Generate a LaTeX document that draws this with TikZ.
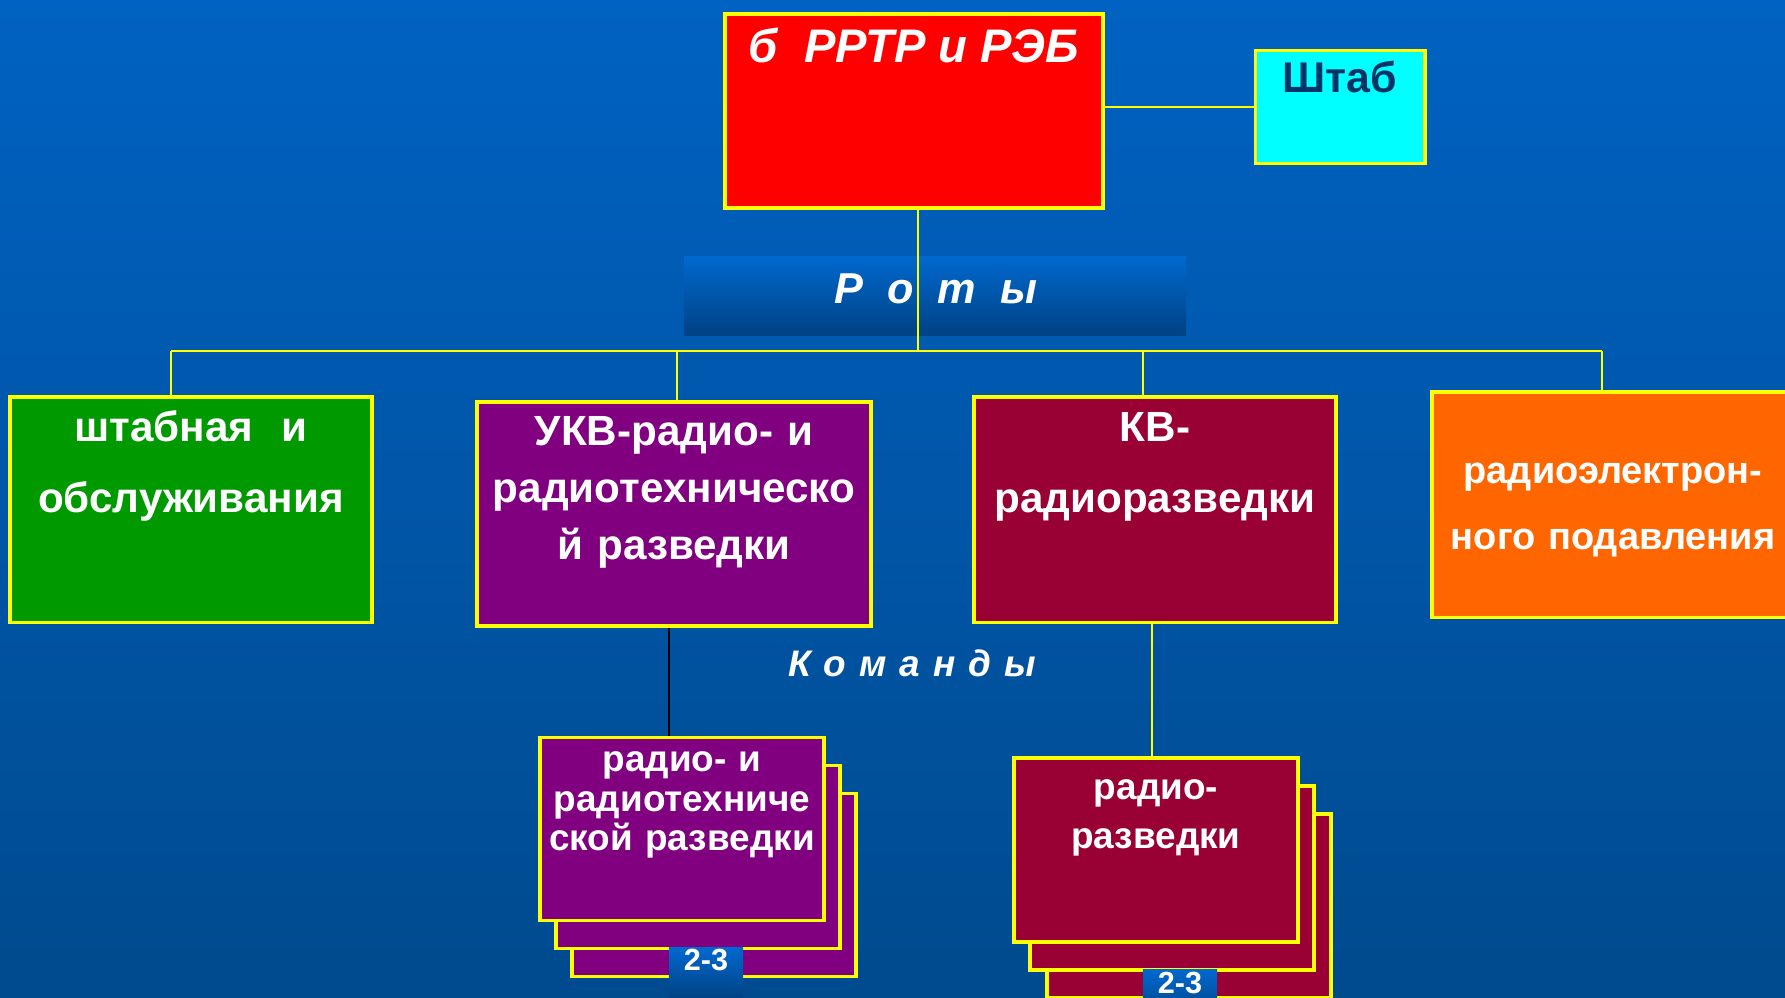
\documentclass[tikz,border=0pt]{standalone}
\usepackage{fontspec}
\setmainfont{Liberation Sans}
\definecolor{bgtop}{RGB}{0,98,194}
\definecolor{bgbottom}{RGB}{0,74,142}
\definecolor{linkyellow}{RGB}{255,255,0}
\definecolor{unitred}{RGB}{255,0,0}
\definecolor{staffcyan}{RGB}{0,255,255}
\definecolor{staffnavy}{RGB}{0,51,102}
\definecolor{unitgreen}{RGB}{0,153,0}
\definecolor{unitpurple}{RGB}{128,0,128}
\definecolor{unitwine}{RGB}{153,0,51}
\definecolor{unitorange}{RGB}{255,102,0}
\definecolor{bandtop}{RGB}{0,104,206}
\definecolor{bandbottom}{RGB}{0,66,132}
\begin{document}
\begin{tikzpicture}[x=0.01cm, y=-0.01cm,
  unitbox/.style={rectangle, draw=linkyellow, line width=1.1pt, inner sep=0pt},
  unittext/.style={text=white, align=center, inner sep=0pt, anchor=base},
  link/.style={draw=linkyellow, line width=0.6pt},
  countbox/.style={rectangle, inner sep=0pt, top color=bandtop,
    bottom color=bandbottom, minimum width=0.74cm, minimum height=0.5cm},
]
\useasboundingbox (0,0) rectangle (1785,998);
\clip (0,0) rectangle (1785,998);

% Background
\shade[top color=bgtop, bottom color=bgbottom] (0,0) rectangle (1785,998);

% Companies band
\node[rectangle, inner sep=0pt, top color=bandtop, bottom color=bandbottom,
  minimum width=5.02cm, minimum height=0.78cm] (band) at (935,296) {};

% Junctions on the bus
\coordinate (jhq) at (918,351);
\coordinate (jsvc) at (171,351);
\coordinate (jukv) at (677,351);
\coordinate (jkv) at (1143,351);
\coordinate (jew) at (1602,351);
\coordinate (jcmd) at (669,626);
\coordinate (jkvcmd) at (1152,622);

% Battalion and staff
\node[unitbox, fill=unitred, minimum width=3.78cm, minimum height=1.94cm] (hq) at (914,111) {};
\node[unitbox, fill=staffcyan, minimum width=1.69cm, minimum height=1.13cm] (staff) at (1340,107) {};

% Companies
\node[unitbox, fill=unitgreen, minimum width=3.62cm, minimum height=2.25cm] (svc) at (191,510) {};
\node[unitbox, fill=unitpurple, minimum width=3.94cm, minimum height=2.24cm] (ukv) at (674,514) {};
\node[unitbox, fill=unitwine, minimum width=3.61cm, minimum height=2.25cm] (kv) at (1155,510) {};
\node[unitbox, fill=unitorange, minimum width=3.62cm, minimum height=2.25cm] (ew) at (1613,505) {};

% Connectors
\draw[link] (staff.west -| hq.east) -- (staff.west);
\draw[link] (jhq |- hq.south) -- (jhq);
\draw[link] (jsvc) -- (jew);
\draw[link] (jsvc) -- (jsvc |- svc.north);
\draw[link] (jukv) -- (jukv |- ukv.north);
\draw[link] (jkv) -- (jkv |- kv.north);
\draw[link] (jew) -- (jew |- ew.north);

% Teams: radio and radiotechnical reconnaissance
\node[unitbox, fill=unitpurple, minimum width=2.84cm, minimum height=1.83cm] (ukvcmdC) at (714,885) {};
\node[unitbox, fill=unitpurple, minimum width=2.84cm, minimum height=1.83cm] (ukvcmdB) at (698,857) {};
\node[unitbox, fill=unitpurple, minimum width=2.84cm, minimum height=1.83cm] (ukvcmd) at (682,829) {};
\node[countbox] (ukvcount) at (706,973) {};
\draw[line width=0.6pt, black] (jcmd |- ukv.south) -- (jcmd |- ukvcmd.north);

% Teams: radio reconnaissance
\node[unitbox, fill=unitwine, minimum width=2.84cm, minimum height=1.84cm] (kvcmdC) at (1189,906) {};
\node[unitbox, fill=unitwine, minimum width=2.84cm, minimum height=1.84cm] (kvcmdB) at (1172,878) {};
\node[unitbox, fill=unitwine, minimum width=2.84cm, minimum height=1.84cm] (kvcmd) at (1156,850) {};
\node[countbox] (kvcount) at (1180,995) {};
\draw[link] (jkvcmd |- kv.south) -- (jkvcmd |- kvcmd.north);

% Texts
\node[unittext, font=\bfseries\itshape\fontsize{13.4}{16}\selectfont] (hqtext) at (914,63)
  {б~~РРТР и РЭБ};
\node[unittext, text=staffnavy, font=\bfseries\fontsize{12.2}{15}\selectfont] (stafftext) at (1340,93)
  {Штаб};
\node[unittext, font=\bfseries\itshape\fontsize{12.3}{15}\selectfont] (bandtext) at (936,304)
  {Р\hspace{0.55em}о\hspace{0.55em}т\hspace{0.55em}ы};
\node[unittext, text width=3.5cm, font=\bfseries\fontsize{12}{20}\selectfont] (svctext) at (191,442)
  {штабная~ и\\обслуживания};
\node[unittext, text width=3.9cm, font=\bfseries\fontsize{12}{16.2}\selectfont] (ukvtext) at (674,446)
  {УКВ-радио- и\\радиотехническо\\й разведки};
\node[unittext, text width=3.5cm, font=\bfseries\fontsize{12}{20}\selectfont] (kvtext) at (1155,442)
  {КВ-\\радиоразведки};
\node[unittext, text width=3.6cm, font=\bfseries\fontsize{10.8}{18.5}\selectfont] (ewtext) at (1613,484)
  {радиоэлектрон-\\ного подавления};
\node[unittext, font=\bfseries\itshape\fontsize{10.5}{13}\selectfont] (cmdtext) at (912,677)
  {К\hspace{0.35em}о\hspace{0.35em}м\hspace{0.35em}а\hspace{0.35em}н\hspace{0.35em}д\hspace{0.35em}ы};
\node[unittext, text width=2.8cm, font=\bfseries\fontsize{10.5}{11.1}\selectfont] (ukvcmdtext) at (682,772)
  {радио- и\\радиотехниче\\ской разведки};
\node[unittext, text width=2.8cm, font=\bfseries\fontsize{10.5}{13.7}\selectfont] (kvcmdtext) at (1156,800)
  {радио-\\разведки};
\node[unittext, font=\bfseries\fontsize{8.7}{10}\selectfont] (ukvcounttext) at (706,970) {2-3};
\node[unittext, font=\bfseries\fontsize{8.7}{10}\selectfont] (kvcounttext) at (1180,993) {2-3};
\end{tikzpicture}
\end{document}
